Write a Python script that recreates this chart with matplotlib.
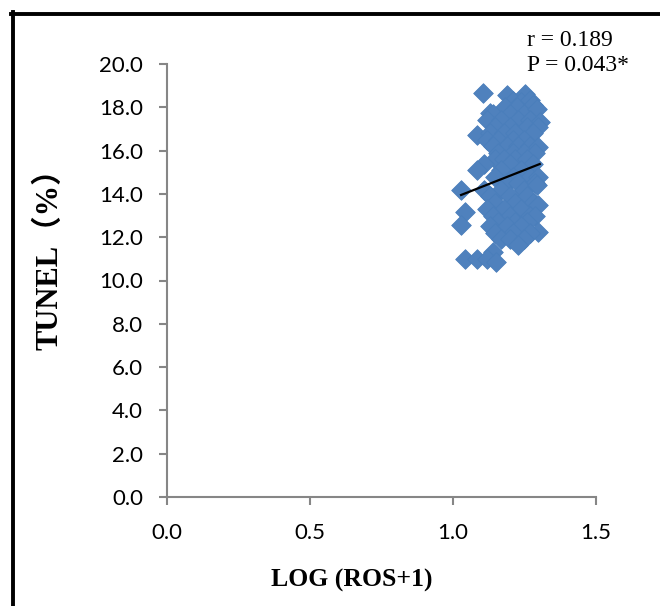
import matplotlib.pyplot as plt
from matplotlib.lines import Line2D

# pontos, linha por linha (y aproximado -> valores de x)
log_ros = [
    1.107, 1.19, 1.255,
    1.21, 1.24, 1.27,
    1.13, 1.185, 1.225, 1.28,
    1.14, 1.20, 1.25, 1.295,
    1.12, 1.17, 1.23, 1.27, 1.305,
    1.15, 1.20, 1.26, 1.30,
    1.087, 1.13, 1.18, 1.22, 1.28,
    1.12, 1.16, 1.21, 1.25,
    1.14, 1.19, 1.23, 1.27, 1.30,
    1.16, 1.21, 1.25, 1.29,
    1.15, 1.18, 1.22, 1.26,
    1.11, 1.20, 1.28,
    1.087, 1.17, 1.24,
    1.15, 1.21, 1.27, 1.30,
    1.19, 1.23, 1.29,
    1.030, 1.11, 1.17, 1.25, 1.297,
    1.13, 1.20, 1.26,
    1.15, 1.22, 1.28, 1.30,
    1.045, 1.12, 1.18, 1.24,
    1.14, 1.20, 1.27, 1.29,
    1.16, 1.22, 1.26,
    1.030, 1.13, 1.19, 1.24, 1.30,
    1.15, 1.21, 1.27,
    1.17, 1.20, 1.25,
    1.23,
    1.14,
    1.045, 1.087, 1.122,
    1.153,
]
tunel = [
    18.67, 18.55, 18.6,
    18.3, 18.25, 18.35,
    17.75, 18.0, 18.0, 18.1,
    17.7, 17.7, 17.7, 17.9,
    17.4, 17.4, 17.4, 17.4, 17.33,
    17.1, 17.1, 17.1, 17.1,
    16.74, 16.8, 16.8, 16.8, 16.8,
    16.5, 16.5, 16.5, 16.5,
    16.2, 16.2, 16.2, 16.2, 16.17,
    15.9, 15.9, 15.9, 15.9,
    15.6, 15.6, 15.6, 15.6,
    15.4, 15.4, 15.4,
    15.1, 15.1, 15.1,
    14.8, 14.8, 14.8, 14.8,
    14.5, 14.5, 14.5,
    14.18, 14.2, 14.2, 14.2, 14.4,
    13.9, 13.9, 13.9,
    13.6, 13.6, 13.6, 13.5,
    13.17, 13.3, 13.3, 13.3,
    13.0, 13.0, 13.0, 13.0,
    12.7, 12.7, 12.7,
    12.56, 12.5, 12.5, 12.5, 12.25,
    12.2, 12.2, 12.2,
    11.9, 11.9, 11.9,
    11.65,
    11.3,
    10.99, 10.99, 11.0,
    10.85,
]

# linha de tendencia (extremos)
trend_x = [1.03, 1.305]
trend_y = [13.95, 15.38]

x_ticks = [0.0, 0.5, 1.0, 1.5]
y_ticks = [0, 2, 4, 6, 8, 10, 12, 14, 16, 18, 20]

fig = plt.figure(figsize=(6.6, 6.06), dpi=100)
ax = fig.add_axes([166.5 / 660, 1 - 497 / 606, 429 / 660, 433 / 606])

ax.scatter(log_ros, tunel, marker='D', s=100, color='#4F81BD',
           edgecolors='#4A7EBB', linewidths=0.6, zorder=3)
ax.plot(trend_x, trend_y, color='black', linewidth=1.6, zorder=4)

ax.set_xlim(0, 1.5)
ax.set_ylim(0, 20)
ax.set_xticks(x_ticks)
ax.set_yticks(y_ticks)
ax.set_xticklabels([f'{v:.1f}' for v in x_ticks], family='Lato', fontsize=16)
ax.set_yticklabels([f'{v:.1f}' for v in y_ticks], family='Lato', fontsize=16)

for lado in ['top', 'right']:
    ax.spines[lado].set_visible(False)
for lado in ['left', 'bottom']:
    ax.spines[lado].set_color('#868686')
    ax.spines[lado].set_linewidth(1.5)
ax.tick_params(axis='both', direction='out', length=6, width=1.5,
               color='#868686', labelcolor='black')
ax.tick_params(axis='x', pad=13)
ax.tick_params(axis='y', pad=11)

fig.text(352 / 660, 1 - 580 / 606, 'LOG (ROS+1)', ha='center', va='center',
         family='Liberation Serif', fontweight='bold', fontsize=18.5)
fig.text(50 / 660, 1 - 252 / 606, 'TUNEL（%）', ha='center', va='center',
         rotation=90, family=['Liberation Serif', 'Noto Sans CJK SC'],
         fontweight='bold', fontsize=22)

fig.text(527 / 660, 1 - 46 / 606, 'r = 0.189', ha='left', va='baseline',
         family='Liberation Serif', fontsize=17)
fig.text(527 / 660, 1 - 71 / 606, 'P = 0.043*', ha='left', va='baseline',
         family='Liberation Serif', fontsize=17)

# moldura preta (so em cima e a esquerda, o resto foi cortado)
fig.add_artist(Line2D([11 / 660, 1.0], [1 - 13.5 / 606, 1 - 13.5 / 606],
                      transform=fig.transFigure, color='black', linewidth=2.8))
fig.add_artist(Line2D([13 / 660, 13 / 660], [0.0, 1 - 12 / 606],
                      transform=fig.transFigure, color='black', linewidth=2.8))

fig.savefig('out.png', dpi=100)
